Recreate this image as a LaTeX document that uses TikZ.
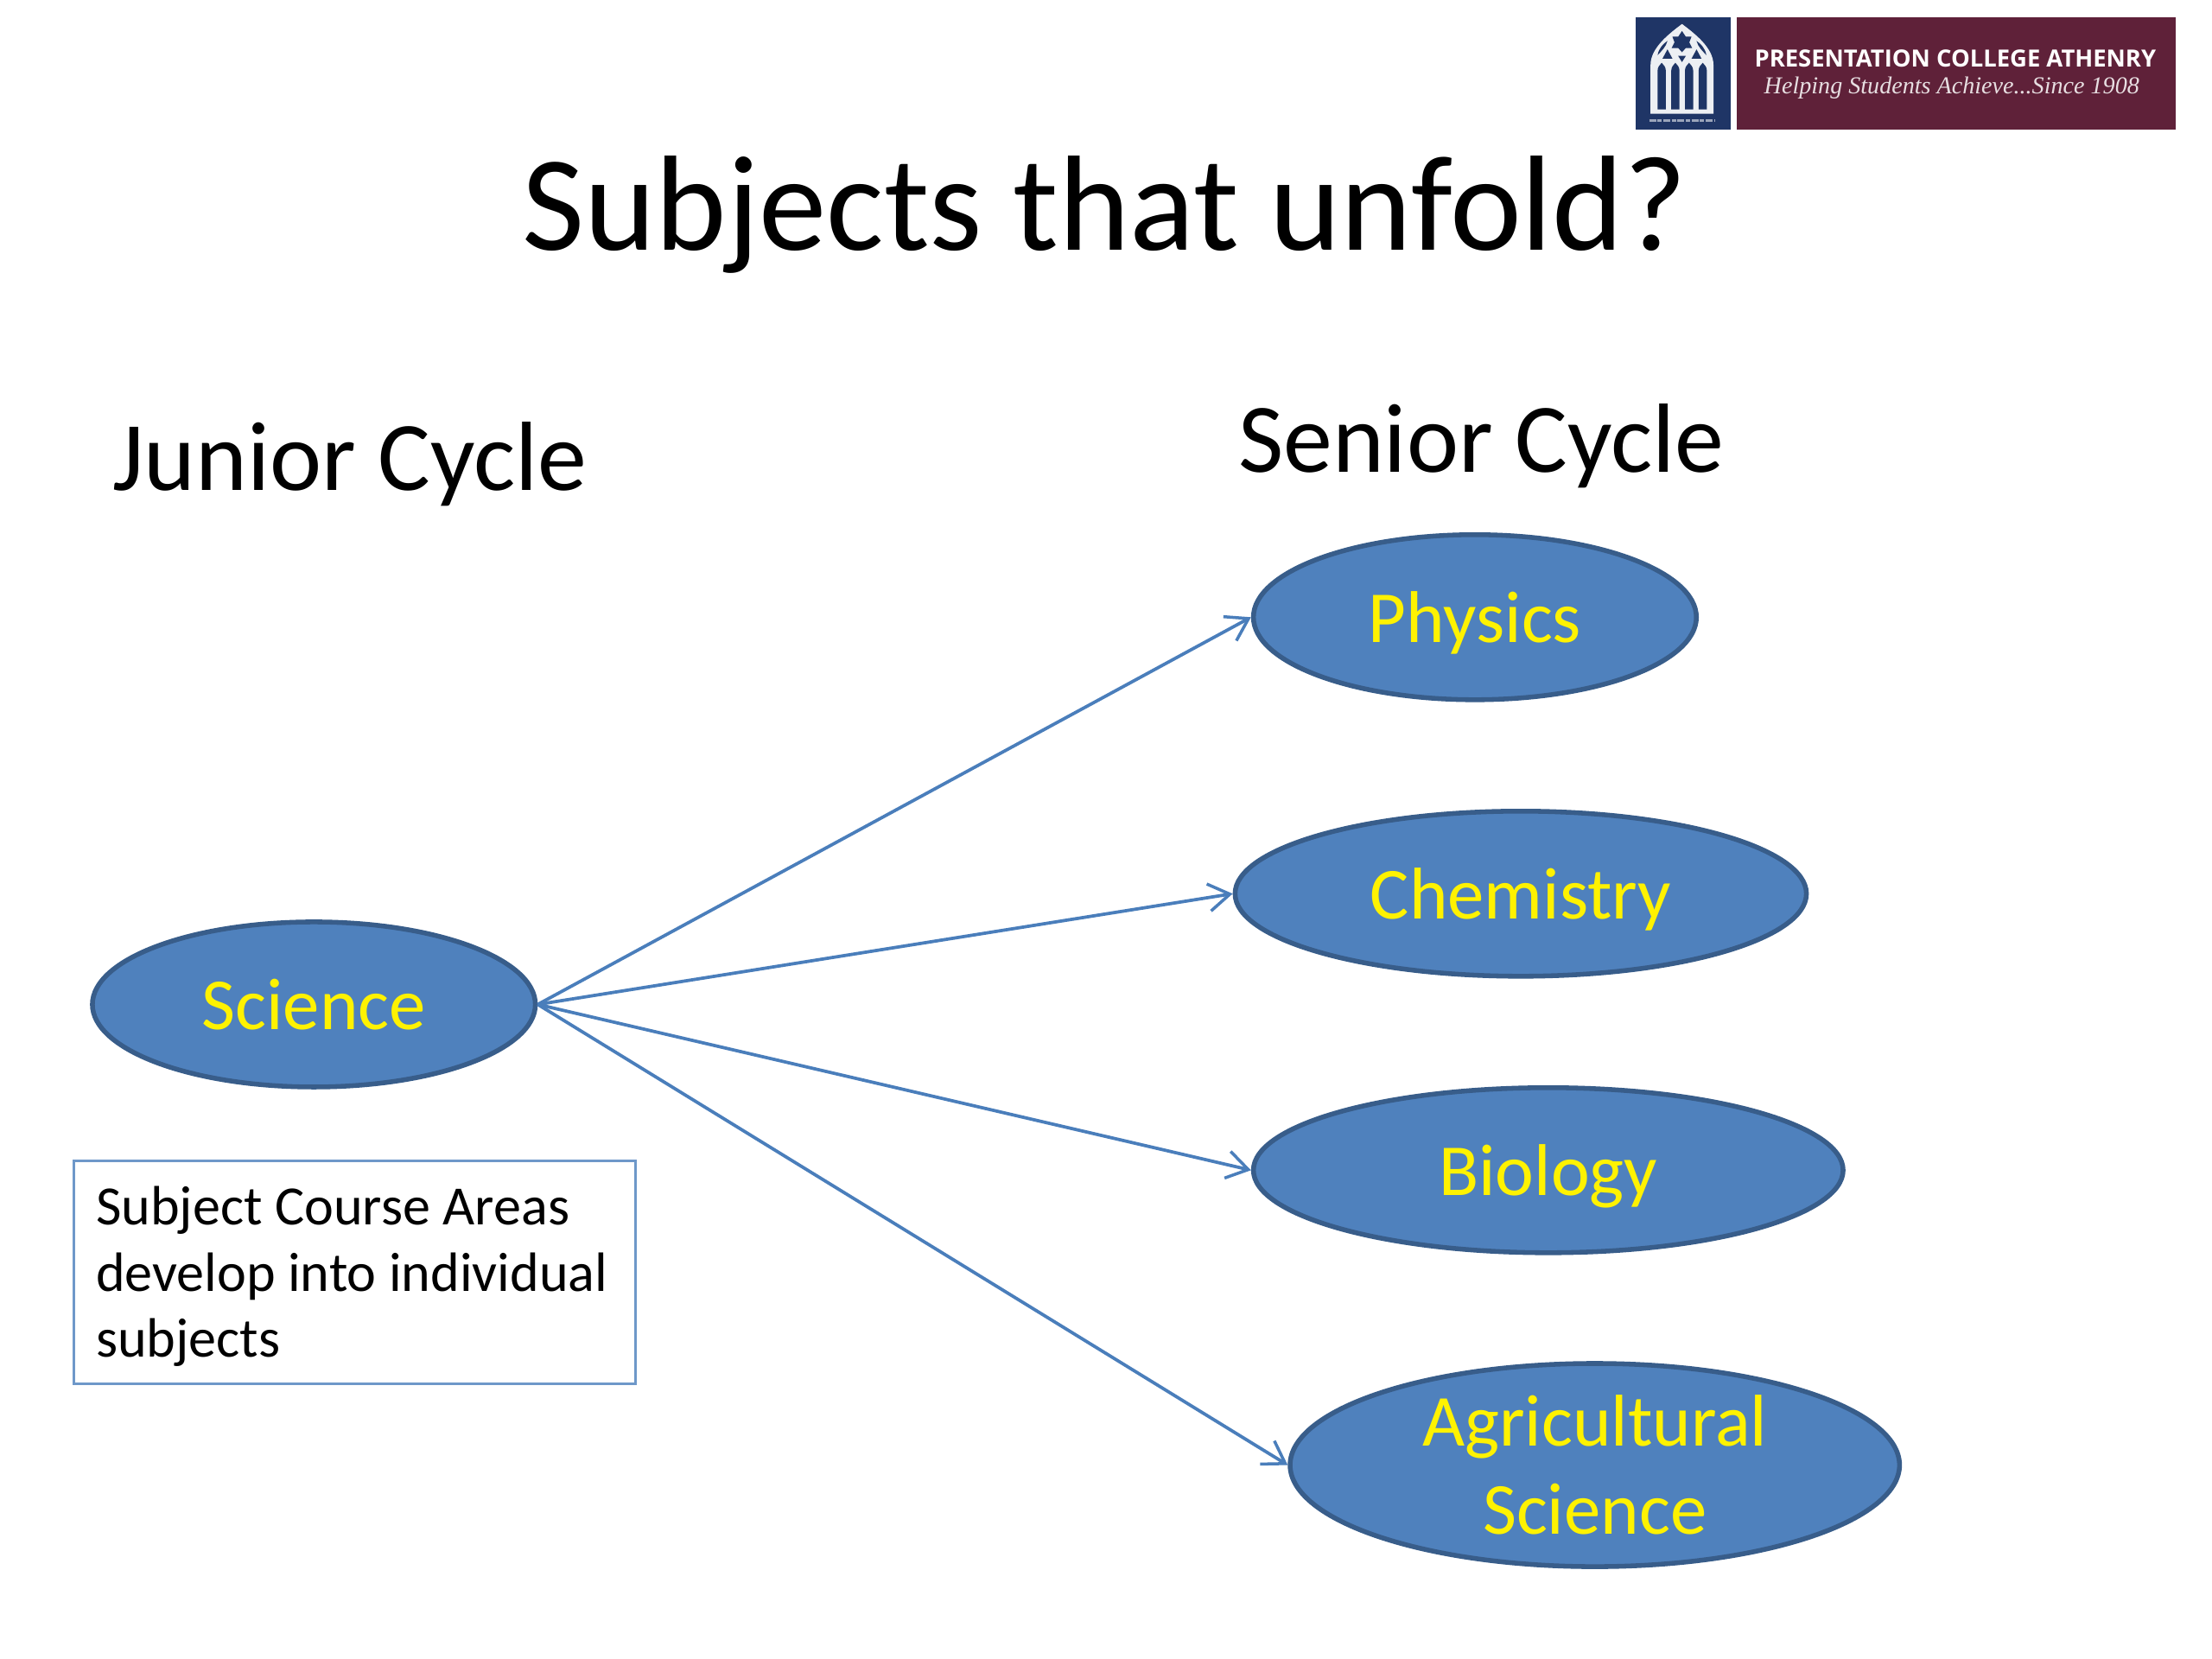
\documentclass[tikz,border=0pt]{standalone}
\usepackage{fontspec}
\setmainfont{Carlito}
\newfontfamily\logosans{Open Sans}
\newfontfamily\logoserif{Liberation Serif}
\usetikzlibrary{shapes.geometric,arrows.meta}
\newdimen\uu \uu=0.016327cm
\definecolor{fillblue}{HTML}{4F81BD}
\definecolor{edgeblue}{HTML}{385D8A}
\definecolor{linkblue}{HTML}{4A7EBB}
\definecolor{logoblue}{HTML}{1F3566}
\definecolor{logored}{HTML}{5F2139}
\tikzset{
  subj/.style={ellipse,draw=edgeblue,fill=fillblue,line width=3.4\uu,inner sep=0pt,outer sep=1.7\uu,
    text=yellow,font=\fontsize{24.15}{29}\selectfont,align=center},
  oneline/.style={text height=16.6pt,text depth=0pt},
  head/.style={font=\fontsize{32.4}{38}\selectfont,text=black,inner sep=0pt},
  link/.style={draw=linkblue,line width=2.3\uu,-{Straight Barb[length=7pt,width=9pt,line width=1pt]}},
  hole/.style={fill=logoblue}
}
\begin{document}
\begin{tikzpicture}[x=\uu,y=-\uu]
\useasboundingbox (0,0) rectangle (1568,1176);
\fill[white] (0,0) rectangle (1568,1176);
% logo
\fill[logoblue] (1159.5,12.5) rectangle (1227,92);
\fill[logored] (1231,12.5) rectangle (1542,92);
% window
\fill[white!92!logoblue] (1170,80.6) -- (1170,46) .. controls (1170,34) and (1183,24) .. (1192.3,17) .. controls (1201.6,24) and (1214.6,34) .. (1214.6,46) -- (1214.6,80.6) -- cycle;
\foreach \a in {1175,1184.7,1194.4,1204.1}{
  \fill[hole] (\a,77.6) -- (\a,50) .. controls (\a,47.5) and (\a+1.5,46) .. (\a+2.9,44.5) .. controls (\a+4.3,46) and (\a+5.8,47.5) .. (\a+5.8,50) -- (\a+5.8,77.6) -- cycle;
}
\fill[hole] (1192.3,22) -- (1195,26) -- (1199,26) -- (1197.5,30) -- (1199.5,34) -- (1195,34) -- (1192.3,37) -- (1189.6,34) -- (1185,34) -- (1187,30) -- (1185.5,26) -- (1189.6,26) -- cycle;
\fill[hole] (1182,35) -- (1185.5,41.5) -- (1178.5,41.5) -- cycle;
\fill[hole] (1202.6,35) -- (1206.1,41.5) -- (1199.1,41.5) -- cycle;
\fill[hole] (1189.5,39.5) -- (1195.1,39.5) -- (1192.3,44) -- cycle;
\fill[hole] (1175,39) .. controls (1176,34) and (1179,31) .. (1182,29) .. controls (1181,33) and (1178,36) .. (1175,39) -- cycle;
\fill[hole] (1209.6,39) .. controls (1208.6,34) and (1205.6,31) .. (1202.6,29) .. controls (1203.6,33) and (1206.6,36) .. (1209.6,39) -- cycle;
\draw[white!55!logoblue,line width=1.6\uu,dash pattern=on 5\uu off 1\uu on 3\uu off 1\uu] (1169,85.5) -- (1216,85.5);
\node[inner sep=0pt,text=white] (lg1) at (1386,41.5) {\logosans\bfseries\fontsize{7.8}{8}\selectfont PRESENTATION COLLEGE ATHENRY};
\node[inner sep=0pt,text=white!85!logored] (lg2) at (1383.5,62) {\logoserif\itshape\fontsize{8.0}{9}\selectfont Helping Students Achieve...Since 1908};
% headings
\node[inner sep=0pt,text=black,font=\fontsize{44.65}{52}\selectfont] (title) at (783,152) {Subjects that unfold?};
\node[head] (junior) at (248,329) {Junior Cycle};
\node[head] (senior) at (1050,316) {Senior Cycle};
% ellipses
\node[subj,oneline,minimum width=314\uu,minimum height=117\uu] (science) at (222.5,712) {Science};
\node[subj,oneline,minimum width=314\uu,minimum height=117\uu] (physics) at (1045.5,437.5) {Physics};
\node[subj,oneline,minimum width=405\uu,minimum height=117\uu] (chemistry) at (1078,633.5) {Chemistry};
\node[subj,oneline,minimum width=418\uu,minimum height=117\uu] (biology) at (1097.5,829.5) {Biology};
\node[subj,minimum width=432\uu,minimum height=144\uu] (agri) at (1130.5,1038.5) {Agricultural\\Science};
% note
\node[draw=linkblue!80!white,line width=1.6\uu,minimum width=398\uu,minimum height=158\uu,inner sep=0pt] (note) at (251.5,902) {};
\node[inner sep=0pt,text width=367\uu,align=flush left,font=\fontsize{18.25}{21.8}\selectfont] (notetext) at (251.5,905) {Subject Course Areas\\develop into individual\\subjects};
% links
\draw[link] (science.east) -- (physics.west);
\draw[link] (science.east) -- (chemistry.west);
\draw[link] (science.east) -- (biology.west);
\draw[link] (science.east) -- (agri.west);
\end{tikzpicture}
\end{document}
